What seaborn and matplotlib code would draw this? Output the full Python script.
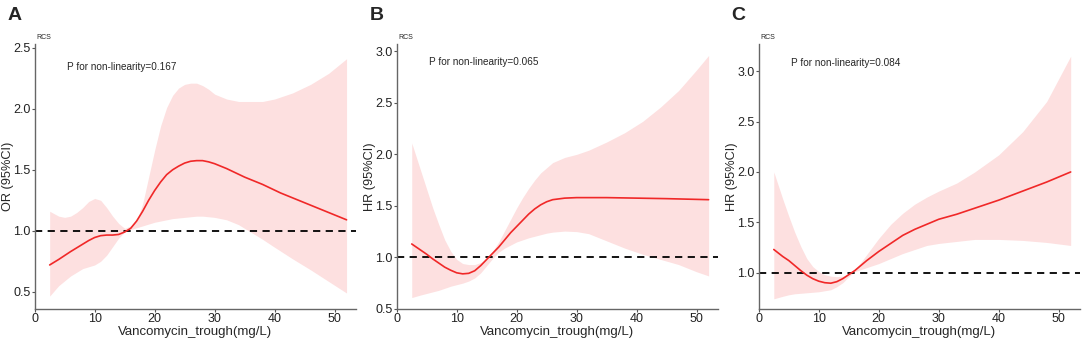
import numpy as np
import pandas as pd
import seaborn as sns
import matplotlib.pyplot as plt

# ---- values ----
# panel A (OR)
x_a = [2.5, 4, 6, 8, 9, 10, 11, 12, 13, 14, 15, 16, 17, 18, 19, 20, 21, 22, 23, 24, 25, 26, 27, 28, 29, 30, 32, 35, 38, 41, 44, 47, 50, 52]
fit_a = [0.72, 0.765, 0.83, 0.89, 0.92, 0.945, 0.96, 0.965, 0.965, 0.97, 0.99, 1.02, 1.08, 1.16, 1.25, 1.33, 1.40, 1.46, 1.50, 1.53, 1.555, 1.57, 1.575, 1.575, 1.565, 1.55, 1.51, 1.44, 1.38, 1.31, 1.25, 1.19, 1.13, 1.09]
band_x_a = [2.5, 4, 5, 6, 7, 8, 9, 10, 11, 12, 13, 14, 15, 16, 17, 18, 19, 20, 21, 22, 23, 24, 25, 26, 27, 28, 29, 30, 32, 34, 36, 38, 40, 43, 46, 49, 52]
up_a = [1.16, 1.12, 1.11, 1.12, 1.15, 1.19, 1.24, 1.265, 1.25, 1.19, 1.12, 1.06, 1.02, 1.04, 1.08, 1.22, 1.44, 1.66, 1.86, 2.01, 2.11, 2.17, 2.20, 2.21, 2.21, 2.19, 2.16, 2.12, 2.08, 2.06, 2.06, 2.06, 2.08, 2.13, 2.20, 2.29, 2.41]
lo_a = [0.465, 0.55, 0.59, 0.63, 0.66, 0.69, 0.705, 0.72, 0.75, 0.80, 0.87, 0.94, 0.99, 1.01, 1.025, 1.04, 1.055, 1.07, 1.08, 1.09, 1.10, 1.105, 1.11, 1.115, 1.12, 1.12, 1.115, 1.11, 1.09, 1.05, 0.99, 0.93, 0.865, 0.77, 0.68, 0.585, 0.49]

# panel B (HR)
x_b = [2.5, 4, 5, 6, 7, 8, 9, 10, 11, 12, 13, 14, 15, 16, 17, 18, 19, 20, 21, 22, 23, 24, 25, 26, 28, 30, 35, 40, 45, 52]
fit_b = [1.13, 1.07, 1.03, 0.985, 0.945, 0.905, 0.875, 0.85, 0.84, 0.845, 0.87, 0.92, 0.98, 1.04, 1.10, 1.17, 1.24, 1.30, 1.36, 1.42, 1.47, 1.51, 1.54, 1.56, 1.575, 1.58, 1.58, 1.575, 1.57, 1.56]
band_x_b = [2.5, 4, 5, 6, 7, 8, 9, 10, 11, 12, 13, 14, 15, 16, 17, 18, 19, 20, 21, 22, 23, 24, 25, 26, 28, 30, 32, 35, 38, 41, 44, 47, 50, 52]
up_b = [2.11, 1.84, 1.66, 1.48, 1.32, 1.17, 1.06, 0.98, 0.94, 0.93, 0.93, 0.95, 0.98, 1.06, 1.15, 1.26, 1.37, 1.48, 1.58, 1.67, 1.75, 1.82, 1.87, 1.92, 1.97, 2.0, 2.04, 2.12, 2.21, 2.32, 2.46, 2.62, 2.82, 2.96]
lo_b = [0.61, 0.635, 0.65, 0.665, 0.68, 0.70, 0.72, 0.735, 0.75, 0.77, 0.80, 0.85, 0.92, 0.99, 1.05, 1.09, 1.12, 1.15, 1.17, 1.19, 1.205, 1.22, 1.235, 1.245, 1.255, 1.25, 1.23, 1.16, 1.09, 1.03, 0.98, 0.93, 0.86, 0.82]

# panel C (HR)
x_c = [2.5, 4, 5, 6, 7, 8, 9, 10, 11, 12, 13, 14, 15, 16, 17, 18, 20, 22, 24, 26, 28, 30, 33, 36, 40, 44, 48, 52]
fit_c = [1.23, 1.16, 1.12, 1.07, 1.02, 0.975, 0.94, 0.915, 0.90, 0.895, 0.91, 0.94, 0.98, 1.02, 1.07, 1.12, 1.21, 1.29, 1.37, 1.43, 1.48, 1.53, 1.58, 1.64, 1.72, 1.81, 1.90, 2.0]
band_x_c = [2.5, 4, 5, 6, 7, 8, 9, 10, 11, 12, 13, 14, 15, 16, 17, 18, 19, 20, 22, 24, 26, 28, 30, 33, 36, 40, 44, 48, 52]
up_c = [2.0, 1.73, 1.56, 1.40, 1.26, 1.14, 1.06, 1.01, 0.98, 0.965, 0.96, 0.965, 0.985, 1.03, 1.10, 1.18, 1.26, 1.34, 1.48, 1.59, 1.68, 1.75, 1.81, 1.89, 2.0, 2.17, 2.40, 2.70, 3.15]
lo_c = [0.74, 0.765, 0.78, 0.79, 0.795, 0.80, 0.805, 0.81, 0.82, 0.83, 0.86, 0.90, 0.96, 1.01, 1.03, 1.05, 1.07, 1.09, 1.14, 1.19, 1.23, 1.27, 1.29, 1.31, 1.33, 1.33, 1.32, 1.30, 1.27]

panels = [
    ("A", x_a, fit_a, band_x_a, up_a, lo_a, "OR (95%CI)", "P for non-linearity=0.167", (0.36, 2.53), [0.5, 1.0, 1.5, 2.0, 2.5], 2.34),
    ("B", x_b, fit_b, band_x_b, up_b, lo_b, "HR (95%CI)", "P for non-linearity=0.065", (0.5, 3.07), [0.5, 1.0, 1.5, 2.0, 2.5, 3.0], 2.90),
    ("C", x_c, fit_c, band_x_c, up_c, lo_c, "HR (95%CI)", "P for non-linearity=0.084", (0.64, 3.27), [1.0, 1.5, 2.0, 2.5, 3.0], 3.08),
]

sns.set_style("white")
plt.rcParams['font.family'] = ['Liberation Sans', 'DejaVu Sans']

fig = plt.figure(figsize=(10.84, 3.53), dpi=100)
lefts = [0.032, 0.366, 0.700]
width = 0.296

for i, (letter, x, fit, bx, up, lo, ylab, ptxt, ylim, yticks, ptxt_y) in enumerate(panels):
    ax = fig.add_axes([lefts[i], 0.125, width, 0.75])
    df = pd.DataFrame({"x": x, "fit": fit})
    ax.fill_between(bx, lo, up, color="#FDE0E0", lw=0)
    ax.axhline(1.0, color="black", ls=(0, (4, 3)), lw=1.3)
    sns.lineplot(data=df, x="x", y="fit", ax=ax, color="#F02828", lw=1.2)
    ax.set_xlim(0, 53.5)
    ax.set_ylim(*ylim)
    ax.set_xticks([0, 10, 20, 30, 40, 50])
    ax.set_yticks(yticks)
    ax.set_yticklabels([f"{t:.1f}" for t in yticks])
    ax.set_xlabel("Vancomycin_trough(mg/L)", fontsize=9.5, labelpad=1)
    ax.set_ylabel(ylab, fontsize=9.2)
    ax.yaxis.set_label_coords(-0.066, 0.5)
    ax.tick_params(axis="both", labelsize=9, length=2, width=0.8, color="#555555",
                   labelcolor="#222222", pad=1, direction="out", bottom=True, left=True)
    for s in ["top", "right"]:
        ax.spines[s].set_visible(False)
    for s in ["left", "bottom"]:
        ax.spines[s].set_color("#666666")
        ax.spines[s].set_linewidth(1.0)
    ax.text(5.4, ptxt_y, ptxt, fontsize=7.2, va="center", ha="left")
    ax.text(0.005, 1.01, "RCS", transform=ax.transAxes, fontsize=5, va="bottom", ha="left")
    fig.text(lefts[i] - 0.025, 0.955, letter, fontsize=14, fontweight="bold", va="center", ha="left")

fig.savefig("out.png", dpi=100)
